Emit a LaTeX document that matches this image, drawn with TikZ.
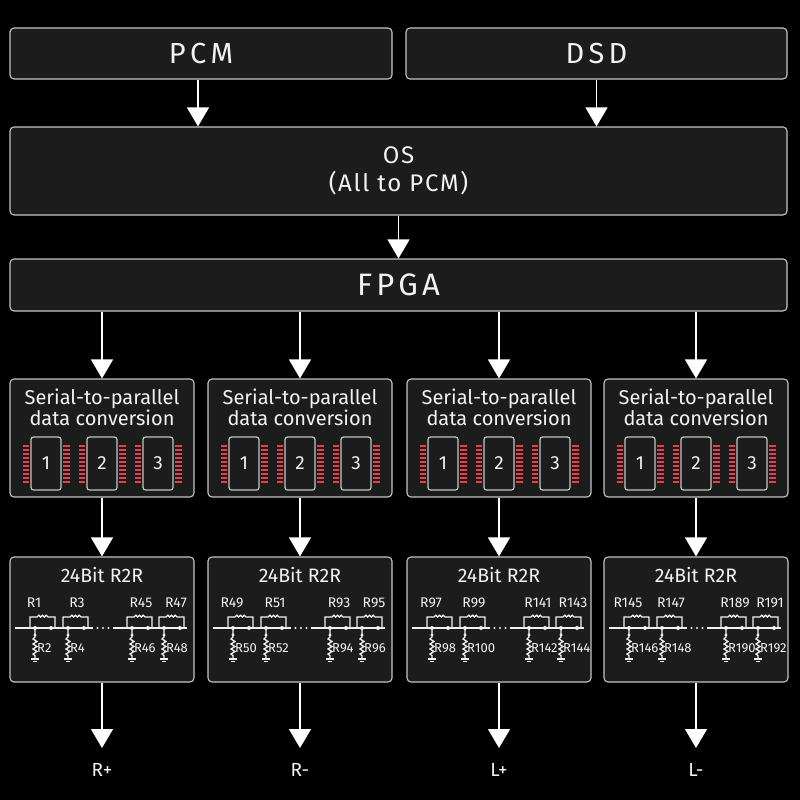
\documentclass[tikz,border=0pt]{standalone}
\usepackage{fontspec}
\setmainfont{Fira Sans}
\usetikzlibrary{arrows.meta,calc}
\definecolor{boxfill}{HTML}{1C1C1C}
\definecolor{boxline}{HTML}{C4C4C4}
\definecolor{txt}{HTML}{F2F2F2}
\definecolor{pincol}{HTML}{E8404A}
\begin{document}
\begin{tikzpicture}[x=1pt,y=-1pt,
  box/.style={draw=boxline, fill=boxfill, line width=1.1pt, rounded corners=4pt, inner sep=0pt, text=txt},
  arr/.style={draw=white, line width=1.2pt, -{Triangle[width=22pt,length=19pt]}},
  wide/.style 2 args={font=\fontsize{#1}{#1}\selectfont\addfontfeature{LetterSpace=#2}},
  lbl/.style={text=txt, inner sep=0pt, font=\fontsize{#1}{#1}\selectfont},
  chip/.style={draw=boxline, fill=boxfill, line width=1.2pt, rounded corners=2.5pt, minimum width=30pt, minimum height=53pt, inner sep=0pt, text=txt, font=\fontsize{19}{19}\selectfont},
  pinline/.style={draw=pincol, line width=1.6pt},
  wire/.style={draw=txt, line width=1.3pt}
]
\fill[black] (0,0) rectangle (800,800);
\useasboundingbox (0,0) rectangle (800,800);

% top
\node[box, minimum width=382pt, minimum height=51pt, wide={29}{15}] (pcm) at (201,53.5) {PCM};
\node[box, minimum width=381pt, minimum height=51pt, wide={29}{15}] (dsd) at (596.5,53.5) {DSD};
\node[box, minimum width=777pt, minimum height=88pt, align=center, font=\fontsize{24}{28}\selectfont\addfontfeature{LetterSpace=7}] (os) at (398.5,171) {OS\\(All to PCM)};
\node[box, minimum width=777pt, minimum height=52pt, wide={31}{13}] (fpga) at (398.5,285) {FPGA};

\draw[arr] ([xshift=-3pt]pcm.south) -- ([xshift=-3pt]pcm.south |- os.north);
\draw[arr] (dsd.south) -- (dsd.south |- os.north);
\draw[arr] (os.south) -- (fpga.north);

\foreach \i/\L/\ta/\tb/\tc/\td/\ba/\bb/\bc/\bd/\o in {
  1/10/R1/R3/R45/R47/R2/R4/R46/R48/R+,
  2/208/R49/R51/R93/R95/R50/R52/R94/R96/R-,
  3/407/R97/R99/R141/R143/R98/R100/R142/R144/L+,
  4/604/R145/R147/R189/R191/R146/R148/R190/R192/L-}{
  \pgfmathsetmacro{\cx}{\L+92}
  % serial box
  \node[box, minimum width=184pt, minimum height=118pt] (s\i) at (\cx,438) {};
  \node[lbl=20, align=center, font=\fontsize{20}{21}\selectfont] (st\i) at (\cx,407.5) {Serial-to-parallel\\data conversion};
  \foreach \j/\off in {1/-56,2/0,3/56}{
    \pgfmathsetmacro{\chx}{\cx+\off}
    \foreach \k in {0,...,9}{
      \draw[pinline] (\chx-17,446+\k*4) -- (\chx-23.5,446+\k*4);
      \draw[pinline] (\chx+17,446+\k*4) -- (\chx+23.5,446+\k*4);
    }
    \node[chip] (c\i\j) at (\chx,463.5) {\j};
  }
  % R2R box
  \node[box, minimum width=184pt, minimum height=125pt] (r\i) at (\cx,619.5) {};
  \node[lbl=19.5] (rt\i) at (\cx,575) {24Bit R2R};
  \begin{scope}[shift={(\L,0)}]
    \draw[wire] (5,628) -- (83,628);
    \draw[wire] (103,628) -- (177,628);
    \foreach \d in {87.5,93,98.5} \fill[txt] (\d,628) circle (1.2pt);
    \foreach \a in {20,53,117,149}{
      \draw[wire] (\a,628) -- (\a,617) -- (\a+7,617)
        arc[start angle=180,end angle=360,radius=1.833]
        arc[start angle=180,end angle=360,radius=1.833]
        arc[start angle=180,end angle=360,radius=1.833]
        -- (\a+25,617) -- (\a+25,628);
      \draw[wire] (\a+5,628) -- (\a+5,637) -- (\a+3,639) -- (\a+7,641.5) -- (\a+3,644) -- (\a+7,646.5) -- (\a+3,649) -- (\a+7,651.5) -- (\a+3,654) -- (\a+5,655.5) -- (\a+5,659);
      \draw[wire] (\a+1,659) -- (\a+9,659);
      \draw[wire] (\a+3,661.5) -- (\a+7,661.5);
      \fill[txt] (\a+5,628) circle (2pt) (\a+21,628) circle (2pt) (\a+5,635) circle (1.7pt);
    }
    \node[lbl=14] (ta\i) at (24,603) {\ta};
    \node[lbl=14] (tb\i) at (67,603) {\tb};
    \node[lbl=14] (tc\i) at (131,603) {\tc};
    \node[lbl=14] (td\i) at (166,603) {\td};
    \node[lbl=13, anchor=west] (ba\i) at (27,648) {\ba};
    \node[lbl=13, anchor=west] (bb\i) at (60,648) {\bb};
    \node[lbl=13, anchor=west] (bc\i) at (124,648) {\bc};
    \node[lbl=13, anchor=west] (bd\i) at (156,648) {\bd};
  \end{scope}
  % arrows
  \draw[arr] (s\i.north |- fpga.south) -- (s\i.north);
  \draw[arr] (s\i.south) -- (r\i.north);
  \coordinate (e\i) at (\cx,748);
  \draw[arr] (r\i.south) -- (e\i);
  \node[lbl=19] (out\i) at (\cx,770) {\o};
}
\end{tikzpicture}
\end{document}
